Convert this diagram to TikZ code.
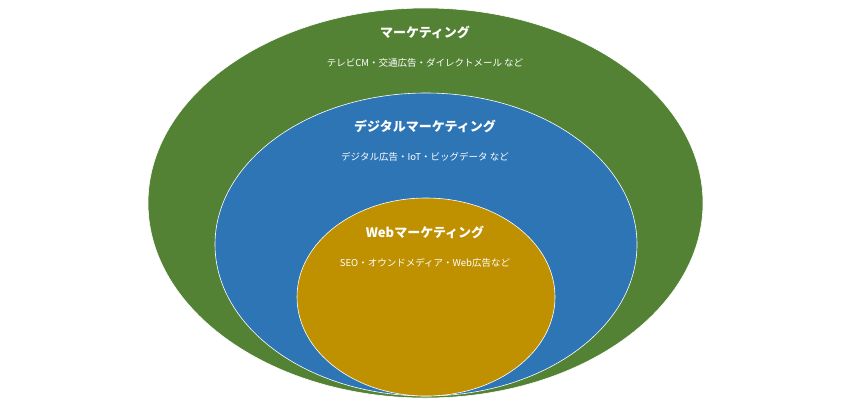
\documentclass[tikz,border=0pt]{standalone}
\usepackage{fontspec}
\setmainfont{Noto Sans CJK JP}
\definecolor{cgreen}{HTML}{548235}
\definecolor{cblue}{HTML}{2E75B6}
\definecolor{cgold}{HTML}{BF9000}
\begin{document}
\begin{tikzpicture}[x=1pt,y=-1pt,
  ttl/.style={text=white,font=\fontsize{13}{15}\selectfont\bfseries,inner sep=0},
  sub/.style={text=white,font=\fontsize{9.5}{11}\selectfont,inner sep=0}]
\useasboundingbox (0,0) rectangle (850,400);
\fill[cgreen,draw=white,line width=0.6pt] (425.5,203) ellipse [x radius=277.5,y radius=195];
\fill[cblue,draw=white,line width=0.6pt] (426,244.5) ellipse [x radius=211,y radius=151.5];
\fill[cgold,draw=white,line width=0.6pt] (426,297) ellipse [x radius=129,y radius=99];
\node[ttl] (t1) at (425,32) {マーケティング};
\node[sub] (s1) at (425,63) {テレビCM・交通広告・ダイレクトメール など};
\node[ttl] (t2) at (425,126) {デジタルマーケティング};
\node[sub] (s2) at (425,157) {デジタル広告・IoT・ビッグデータ など};
\node[ttl] (t3) at (425,232) {Webマーケティング};
\node[sub] (s3) at (425,263) {SEO・オウンドメディア・Web広告など};
\end{tikzpicture}
\end{document}
